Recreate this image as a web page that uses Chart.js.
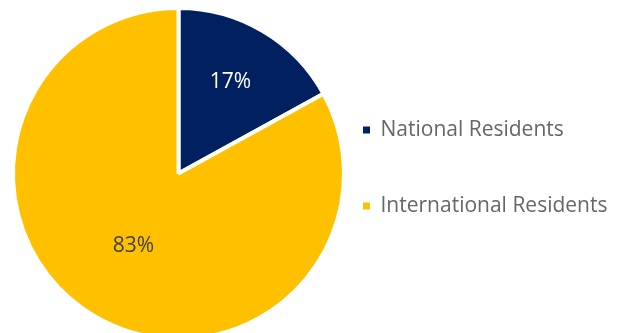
<!DOCTYPE html>
<html>
<head>
<meta charset="utf-8">
<script src="https://cdn.jsdelivr.net/npm/chart.js@4.4.1/dist/chart.umd.min.js"></script>
<style>
  html, body { margin:0; padding:0; background:#fff; overflow:hidden; }
  #wrap { width:618px; height:347px; position:relative; }
</style>
</head>
<body>
<div id="wrap"><canvas id="chart"></canvas></div>
<script>
var categories = ['National Residents', 'International Residents'];
var shares     = [17, 83];
var pctLabels  = ['17%', '83%'];
var colors     = ['#002060', '#FFC000'];
var labelColors = ['#ffffff', '#404040'];
var labelDist  = [0.64, 0.51];

var FONT = 'Open Sans';

// draws the percentage inside each slice
var sliceLabels = {
  id: 'sliceLabels',
  afterDatasetsDraw: function(chart) {
    var ctx = chart.ctx;
    var meta = chart.getDatasetMeta(0);
    ctx.save();
    ctx.font = '21px "' + FONT + '"';
    ctx.textAlign = 'center';
    ctx.textBaseline = 'middle';
    meta.data.forEach(function(arc, i) {
      var p = arc.getProps(['x','y','startAngle','endAngle','outerRadius'], true);
      var mid = (p.startAngle + p.endAngle) / 2;
      var r = p.outerRadius * labelDist[i];
      ctx.fillStyle = labelColors[i];
      ctx.fillText(pctLabels[i], p.x + Math.cos(mid) * r - 2, p.y + Math.sin(mid) * r);
    });
    ctx.restore();
  }
};

var chart = new Chart(document.getElementById('chart'), {
  type: 'pie',
  data: {
    labels: categories,
    datasets: [{
      data: shares,
      backgroundColor: colors,
      borderColor: '#ffffff',
      borderWidth: 4
    }]
  },
  options: {
    responsive: true,
    maintainAspectRatio: false,
    animation: false,
    layout: { padding: { left:4, right:0, top:6, bottom:6 } },
    plugins: {
      tooltip: { enabled:false },
      legend: {
        position: 'right',
        title: { display:true, text:' ', font:{ size:20, family:FONT }, padding:5 },
        labels: {
          // array text so the row height follows font.lineHeight
          generateLabels: function(chart) {
            return categories.map(function(c, i) {
              return { text:[c], fillStyle:colors[i], strokeStyle:colors[i], lineWidth:0, index:i };
            });
          },
          boxWidth: 7,
          boxHeight: 7,
          padding: 10,
          color: '#595959',
          font: { size:21, family:FONT, lineHeight:'66px' }
        }
      }
    }
  },
  plugins: [sliceLabels]
});

// legend starts at x=353, pie keeps the rest
chart.options.layout.padding.right = Math.max(0, 265 - chart.legend.width);
chart.update();
</script>
</body>
</html>
